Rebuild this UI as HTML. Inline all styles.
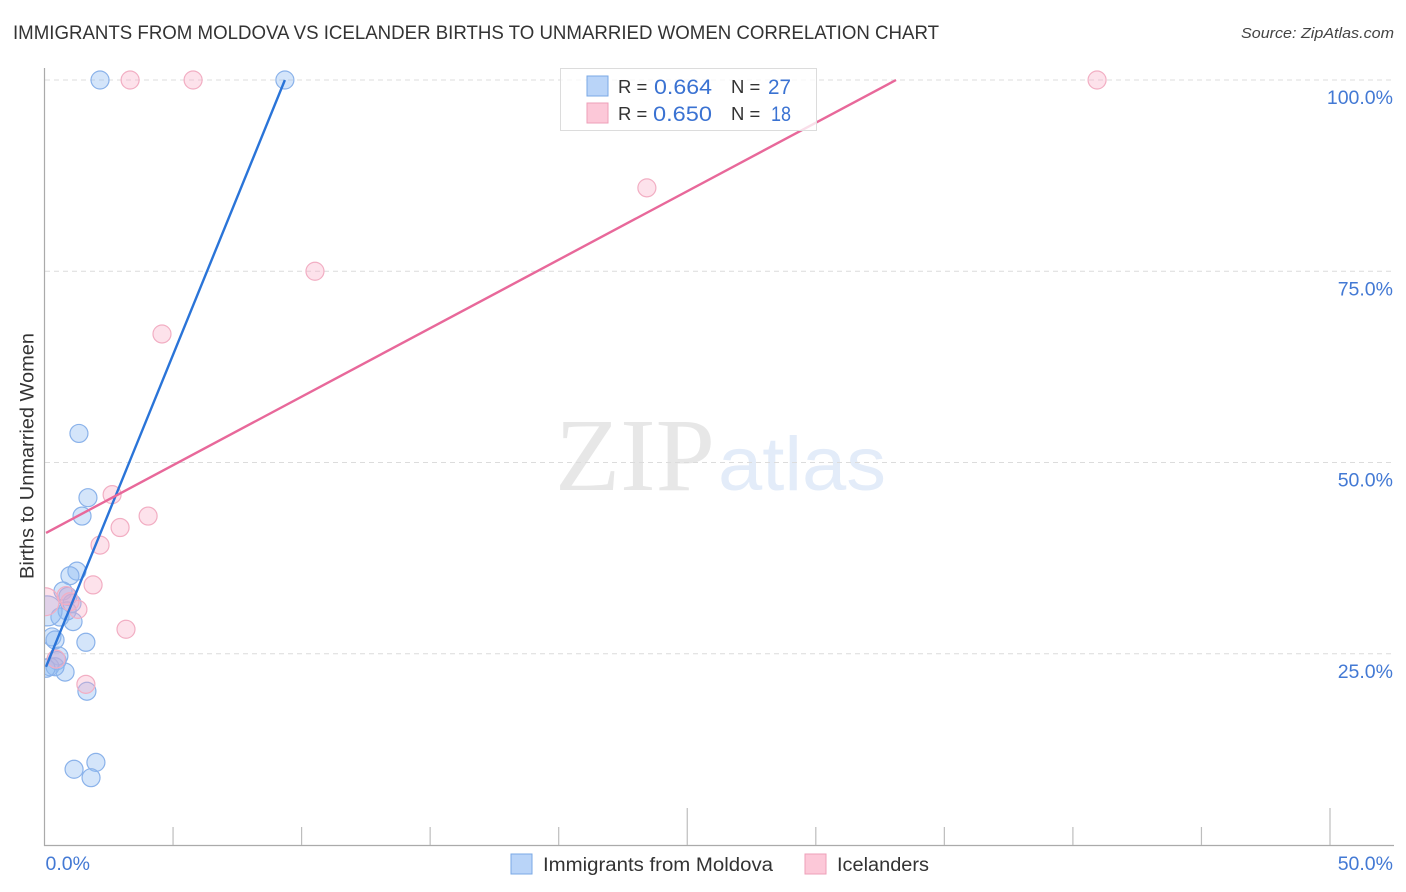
<!DOCTYPE html>
<html lang="en">
<head>
<meta charset="utf-8">
<title>Immigrants from Moldova vs Icelander Births to Unmarried Women Correlation Chart</title>
<style>
html,body{margin:0;padding:0;background:#fff;}
svg{display:block;font-family:"Liberation Sans",sans-serif;}
</style>
</head>
<body>
<svg id="chart" xmlns="http://www.w3.org/2000/svg" width="1406" height="892" viewBox="0 0 1406 892">
  <defs>
    <clipPath id="plot-clip"><rect x="45" y="60" width="1349" height="785"/></clipPath>
  </defs>
  <text x="13" y="39" font-size="19.5" fill="#333" textLength="926" lengthAdjust="spacingAndGlyphs">IMMIGRANTS FROM MOLDOVA VS ICELANDER BIRTHS TO UNMARRIED WOMEN CORRELATION CHART</text>
  <text x="1241" y="38" font-size="15" font-style="italic" fill="#444" textLength="153" lengthAdjust="spacingAndGlyphs">Source: ZipAtlas.com</text>
  <g>
    <text x="555" y="490" font-family="'Liberation Serif',serif" font-size="104" fill="#e7e7e7" textLength="160" lengthAdjust="spacingAndGlyphs">ZIP</text>
    <text x="718" y="490" font-size="76" fill="#e3ecf9" textLength="168" lengthAdjust="spacingAndGlyphs">atlas</text>
  </g>
  <g id="grid"></g>
  <g id="axes"></g>
  <g id="points" clip-path="url(#plot-clip)"></g>
  <g id="trends" clip-path="url(#plot-clip)"></g>
  <text transform="translate(33.5,579) rotate(-90)" font-size="19" fill="#333" textLength="246" lengthAdjust="spacingAndGlyphs">Births to Unmarried Women</text>
  <g>
    <rect x="560.5" y="68.5" width="256" height="62" fill="#fff" fill-opacity="0.78" stroke="#dcdcdc"/>
    <rect x="587" y="76" width="21" height="20" fill="#b9d4f8" stroke="#7aa8e6"/>
    <rect x="587" y="103" width="21" height="20" fill="#fcc8d8" stroke="#ee9fb8"/>
    <text x="618" y="93" font-size="18.5" fill="#333">R =</text>
    <text x="618" y="120" font-size="18.5" fill="#333">R =</text>
    <text x="731" y="93" font-size="18.5" fill="#333">N =</text>
    <text x="731" y="120" font-size="18.5" fill="#333">N =</text>
    <text x="654" y="94" font-size="21.5" fill="#3a72d2" textLength="58" lengthAdjust="spacingAndGlyphs">0.664</text>
    <text x="653" y="121" font-size="21.5" fill="#3a72d2" textLength="59" lengthAdjust="spacingAndGlyphs">0.650</text>
    <text x="768" y="94" font-size="21.5" fill="#3a72d2" textLength="23" lengthAdjust="spacingAndGlyphs">27</text>
    <text x="771" y="121" font-size="21.5" fill="#3a72d2" textLength="20" lengthAdjust="spacingAndGlyphs">18</text>
  </g>
  <g>
    <rect x="511" y="854" width="21" height="20" fill="#b9d4f8" stroke="#7aa8e6"/>
    <text x="543" y="871" font-size="19" fill="#333" textLength="230" lengthAdjust="spacingAndGlyphs">Immigrants from Moldova</text>
    <rect x="805" y="854" width="21" height="20" fill="#fcc8d8" stroke="#ee9fb8"/>
    <text x="837" y="871" font-size="19" fill="#333" textLength="92" lengthAdjust="spacingAndGlyphs">Icelanders</text>
  </g>
</svg>
<script>
const yTickValues = [25, 50, 75, 100];
const yTickLabels = ["25.0%", "50.0%", "75.0%", "100.0%"];
const xTickValues = [5, 10, 15, 20, 25, 30, 35, 40, 45, 50];
const xMajorTicks = [25, 50];
const xEndValues = [0, 50];
const xEndLabels = ["0.0%", "50.0%"];

const moldovaX = [2.16, 9.35, 1.34, 1.69, 1.46, 1.26, 0.99, 0.72, 0.91, 1.07, 0.88, 0.60, 1.11, 0.29, 0.41, 1.61, 0.56, 0.49, 0.80, 0.21, 0.41, 0.06, 1.65, 2.00, 1.15, 1.81, 0.10];
const moldovaY = [100, 100, 53.8, 45.4, 43.0, 35.8, 35.2, 33.2, 32.5, 31.6, 30.6, 29.8, 29.2, 27.2, 26.8, 26.5, 24.7, 24.1, 22.6, 23.3, 23.3, 23.1, 20.1, 10.8, 9.9, 8.8, 30.6];
const moldovaSize = [9, 9, 9, 9, 9, 9, 9, 9, 9, 9, 9, 9, 9, 9, 9, 9, 9, 9, 9, 9, 9, 9, 9, 9, 9, 9, 15];

const icelandersX = [3.33, 5.78, 40.94, 23.43, 10.52, 4.57, 2.63, 4.03, 2.94, 2.16, 1.89, 0.84, 1.30, 3.17, 1.61, 0.02, 0.45, 0.99];
const icelandersY = [100, 100, 100, 85.9, 75, 66.8, 45.8, 43, 41.5, 39.2, 34, 32.6, 30.8, 28.2, 21, 31.8, 24.3, 31.8];
const icelandersSize = [9, 9, 9, 9, 9, 9, 9, 9, 9, 9, 9, 9, 9, 9, 9, 14, 9, 9];

const moldovaTrendX = [0.06, 9.35];
const moldovaTrendY = [23.3, 100];
const icelandersTrendX = [0.06, 33.12];
const icelandersTrendY = [40.8, 100];

const NS = "http://www.w3.org/2000/svg";
function xScale(v) { return 44.5 + v * 25.71; }
function yScale(v) { return 845 - v * 7.65; }
function make(tag, parent, attrs) {
  const el = document.createElementNS(NS, tag);
  for (const k in attrs) el.setAttribute(k, attrs[k]);
  document.getElementById(parent).appendChild(el);
  return el;
}

yTickValues.forEach(function (v, i) {
  const line = make("line", "grid", { x1: 45, x2: 1394, y1: yScale(v), y2: yScale(v), stroke: "#dcdcdc", "stroke-width": 1, "stroke-dasharray": "5 4" });
  
  
  const label = make("text", "axes", { x: 1393, y: yScale(v) + 24, "text-anchor": "end", "font-size": 19.5, fill: "#4379d4" });
  label.textContent = yTickLabels[i];
  
  
});

const yAxis = make("line", "axes", { x1: 44.5, x2: 44.5, y1: 68, y2: 846, stroke: "#aaa", "stroke-width": 1.2 });


const xAxis = make("line", "axes", { x1: 44, x2: 1394, y1: 845.5, y2: 845.5, stroke: "#aaa", "stroke-width": 1.2 });



xTickValues.forEach(function (v) {
  const top = xMajorTicks.indexOf(v) >= 0 ? 808 : 827;
  const tick = make("line", "axes", { x1: xScale(v), x2: xScale(v), y1: top, y2: 845, stroke: "#bdbdbd", "stroke-width": 1.2 });
  
  
});

xEndValues.forEach(function (v, i) {
  const label = make("text", "axes", { x: i === 0 ? xScale(v) + 1 : 1393, y: 870, "text-anchor": i === 0 ? "start" : "end", "font-size": 19.5, fill: "#4379d4" });
  label.textContent = xEndLabels[i];
  
  
});

moldovaX.forEach(function (x, i) {
  const dot = make("circle", "points", { cx: xScale(x), cy: yScale(moldovaY[i]), r: moldovaSize[i], fill: "rgba(143,187,243,0.38)", stroke: "#8ab2ea", "stroke-width": 1.2 });
  
  
});

icelandersX.forEach(function (x, i) {
  const dot = make("circle", "points", { cx: xScale(x), cy: yScale(icelandersY[i]), r: icelandersSize[i], fill: "rgba(248,170,195,0.34)", stroke: "#f2aec3", "stroke-width": 1.2 });
  
  
});

const moldovaLine = make("line", "trends", { x1: xScale(moldovaTrendX[0]), y1: yScale(moldovaTrendY[0]), x2: xScale(moldovaTrendX[1]), y2: yScale(moldovaTrendY[1]), stroke: "#2a74d8", "stroke-width": 2.4 });


const icelandersLine = make("line", "trends", { x1: xScale(icelandersTrendX[0]), y1: yScale(icelandersTrendY[0]), x2: xScale(icelandersTrendX[1]), y2: yScale(icelandersTrendY[1]), stroke: "#e8689a", "stroke-width": 2.4 });


</script>
</body>
</html>
